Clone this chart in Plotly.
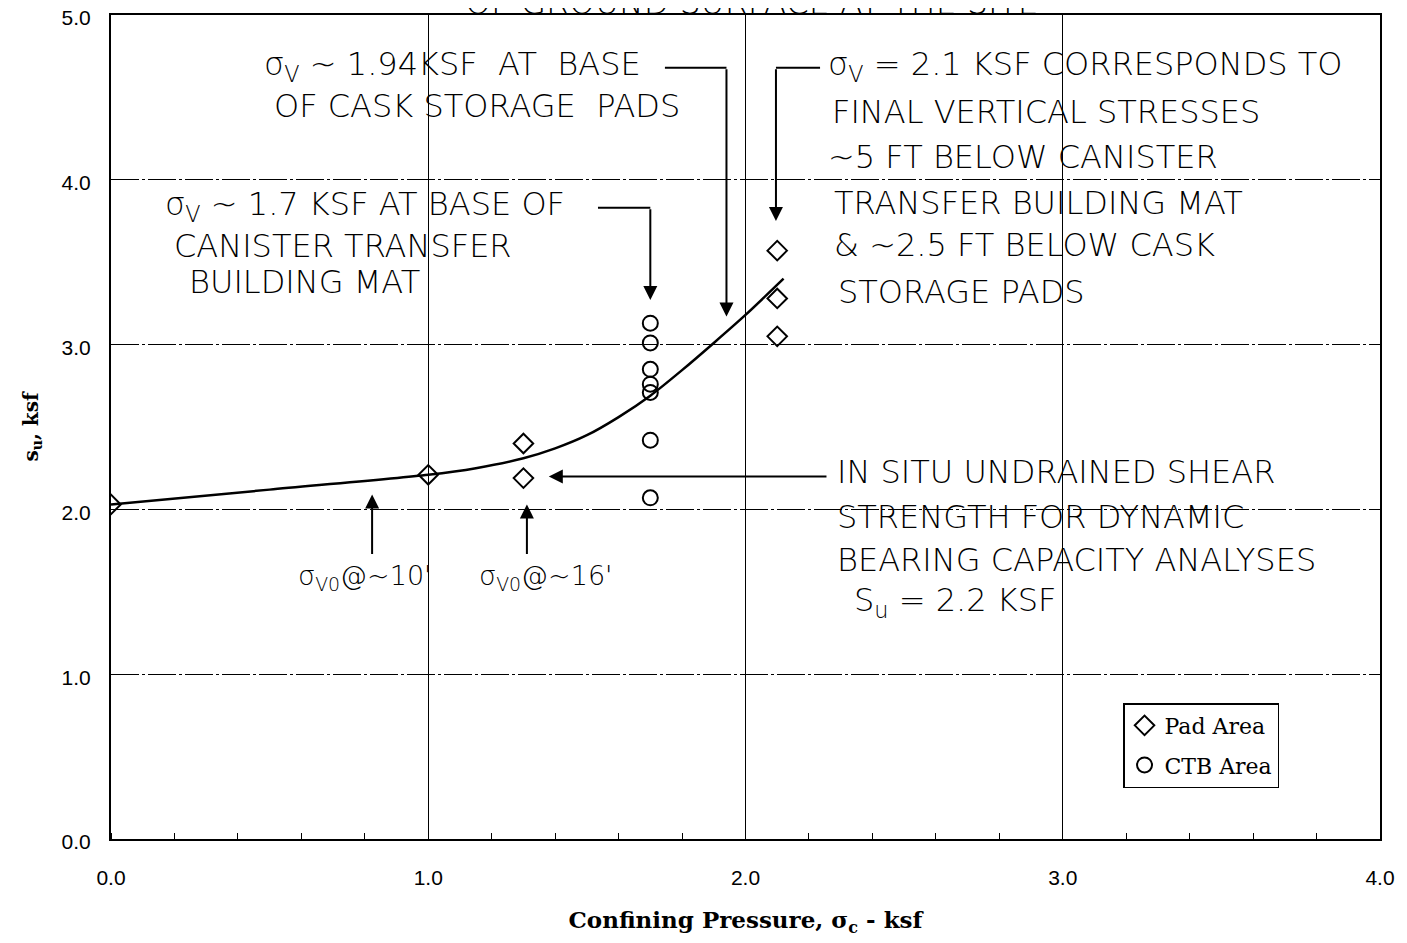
import plotly.graph_objects as go

# ---------------- data ----------------
pad_x = [0.0, 1.0, 1.3, 1.3, 2.1, 2.1, 2.1]
pad_y = [2.03, 2.21, 2.40, 2.19, 3.57, 3.28, 3.05]

ctb_x = [1.7, 1.7, 1.7, 1.7, 1.7, 1.7, 1.7]
ctb_y = [3.13, 3.01, 2.85, 2.76, 2.71, 2.42, 2.07]

fit_x = [0.0, 0.5, 1.0, 1.15, 1.3, 1.4, 1.5, 1.6, 1.7, 1.8, 1.9, 2.0, 2.12]
fit_y = [2.03, 2.12, 2.21, 2.25, 2.31, 2.37, 2.45, 2.56, 2.69, 2.845, 3.01, 3.18, 3.40]

x_tick_vals = [0, 1, 2, 3, 4]
x_tick_text = ["0.0", "1.0", "2.0", "3.0", "4.0"]
y_tick_vals = [0, 1, 2, 3, 4, 5]
y_tick_text = ["0.0", "1.0", "2.0", "3.0", "4.0", "5.0"]

# ---------------- figure ----------------
fig = go.Figure()

fig.add_trace(go.Scatter(
    x=fit_x, y=fit_y, mode="lines", line=dict(color="black", width=2.5, shape="spline", smoothing=0.8),
    showlegend=False, hoverinfo="skip"))

fig.add_trace(go.Scatter(
    x=pad_x, y=pad_y, mode="markers", name="Pad Area", legendgroup="pad",
    marker=dict(symbol="diamond-open", size=15, color="black", line=dict(width=2, color="black"))))

fig.add_trace(go.Scatter(
    x=ctb_x, y=ctb_y, mode="markers", name="CTB Area", legendgroup="ctb",
    marker=dict(symbol="circle-open", size=15, color="black", line=dict(width=2, color="black"))))

HAND_FAMILY = "DejaVu Sans"

def txt(x, y, s, size=32, anchor="left"):
    fig.add_annotation(x=x, y=y, xref="x", yref="y", text=s, showarrow=False,
                       xanchor=anchor, yanchor="middle",
                       font=dict(family=HAND_FAMILY, size=size, color="black", weight=300))

def arrow(x, y, ax, ay):
    fig.add_annotation(x=x, y=y, ax=ax, ay=ay, xref="x", yref="y", axref="x", ayref="y",
                       text="", showarrow=True, arrowhead=2, arrowsize=1.4,
                       arrowwidth=2, arrowcolor="black")

def seg(x0, y0, x1, y1):
    fig.add_shape(type="line", x0=x0, y0=y0, x1=x1, y1=y1, xref="x", yref="y",
                  line=dict(color="black", width=2))

# block: 1.94 ksf
txt(0.476, 4.69, "σ<sub>V</sub> ~ 1.94KSF  AT  BASE")
txt(0.507, 4.45, "OF CASK STORAGE  PADS")
seg(1.746, 4.68, 1.94, 4.68)
arrow(1.94, 3.17, 1.94, 4.68)

# block: 1.7 ksf
txt(0.164, 3.84, "σ<sub>V</sub> ~ 1.7 KSF AT BASE OF")
txt(0.192, 3.60, "CANISTER TRANSFER")
txt(0.240, 3.380, "BUILDING MAT")
seg(1.535, 3.83, 1.70, 3.83)
arrow(1.70, 3.27, 1.70, 3.83)

# block: 2.1 ksf
txt(2.254, 4.69, "σ<sub>V</sub> = 2.1 KSF CORRESPONDS TO")
txt(2.266, 4.411, "FINAL VERTICAL STRESSES")
txt(2.254, 4.138, "~5 FT BELOW CANISTER")
txt(2.273, 3.859, "TRANSFER BUILDING MAT")
txt(2.273, 3.604, "&amp; ~2.5 FT BELOW CASK")
txt(2.285, 3.319, "STORAGE PADS")
seg(2.235, 4.68, 2.096, 4.68)
arrow(2.096, 3.75, 2.096, 4.68)

# block: in situ strength
txt(2.282, 2.227, "IN SITU UNDRAINED SHEAR")
txt(2.282, 1.954, "STRENGTH FOR DYNAMIC")
txt(2.282, 1.693, "BEARING CAPACITY ANALYSES")
txt(2.336, 1.438, "S<sub>u</sub> = 2.2 KSF")
arrow(1.38, 2.20, 2.26, 2.20)

# overburden arrows
arrow(0.823, 2.09, 0.823, 1.72)
arrow(1.311, 2.03, 1.311, 1.72)
txt(0.80, 1.584, "σ<sub>V0</sub>@~10'", size=27, anchor="center")
txt(1.368, 1.584, "σ<sub>V0</sub>@~16'", size=27, anchor="center")

# text cut off at the top edge of the page
fig.add_annotation(x=2.02, y=1, xref="x", yref="paper", text="OF GROUND SURFACE AT THE SITE",
                   showarrow=False, xanchor="center", yanchor="middle", yshift=13,
                   font=dict(family=HAND_FAMILY, size=33, color="black", weight=300))

fig.update_layout(
    width=1399, height=935,
    margin=dict(l=103, r=27, t=7, b=104),
    paper_bgcolor="white", plot_bgcolor="white",
    showlegend=True,
    legend=dict(x=0.7975, y=0.165, xanchor="left", yanchor="top",
                bordercolor="black", borderwidth=1.5, bgcolor="white",
                font=dict(family="DejaVu Serif", size=22, color="black"),
                itemwidth=30, tracegroupgap=8),
    xaxis=dict(
        range=[0, 4], tickvals=x_tick_vals, ticktext=x_tick_text,
        showgrid=True, gridcolor="black", gridwidth=1,
        showline=True, linecolor="black", linewidth=2, mirror=True,
        ticks="", ticklabelstandoff=19, zeroline=False, automargin=False,
        ticklabeloverflow="allow",
        tickfont=dict(family="Liberation Sans", size=21, color="black"),
        minor=dict(ticks="inside", ticklen=6, dtick=0.2, tickcolor="black", tickwidth=1, showgrid=False),
        title=dict(text="<b>Confining Pressure, σ<sub>c</sub> - ksf</b>",
                   font=dict(family="DejaVu Serif", size=23, color="black"), standoff=24),
    ),
    yaxis=dict(
        range=[0, 5], tickvals=y_tick_vals, ticktext=y_tick_text,
        showgrid=True, gridcolor="black", gridwidth=1, griddash="28px,3px,3px,3px",
        showline=True, linecolor="black", linewidth=2, mirror=True,
        ticks="", ticklabelstandoff=14, ticklabelshift=3, zeroline=False, automargin=False,
        ticklabeloverflow="allow",
        tickfont=dict(family="Liberation Sans", size=21, color="black"),
        title=dict(text="<b>s<sub>u</sub>, ksf</b>",
                   font=dict(family="DejaVu Serif", size=20, color="black"), standoff=18),
    ),
)

fig.write_html("out.html")
